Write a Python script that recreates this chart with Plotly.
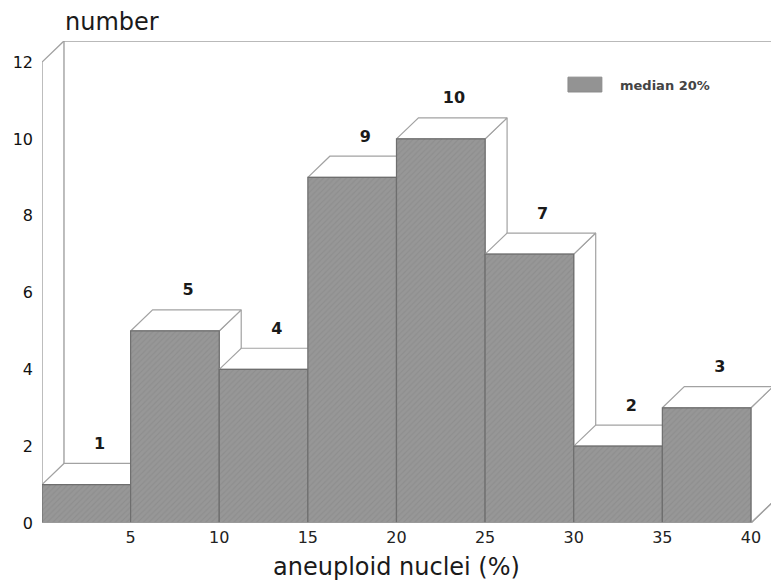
import plotly.graph_objects as go

# ---- data ----
bin_left = [0, 5, 10, 15, 20, 25, 30, 35]
bin_width = 5
counts = [1, 5, 4, 9, 10, 7, 2, 3]
count_labels = ["1", "5", "4", "9", "10", "7", "2", "3"]
x_ticks = [5, 10, 15, 20, 25, 30, 35, 40]
y_ticks = [0, 2, 4, 6, 8, 10, 12]
legend_name = "median 20%"

# ---- geometry (depth of the pseudo-3D effect, in data units) ----
DX = 1.24
DY = 0.55
X_MAX = 41.13
Y_MAX = 12.55
Y_TOP = 12

FRONT = "#979797"
EDGE = "#6e6e6e"
LIGHT = "#a2a2a2"
FONT = "DejaVu Sans"

fig = go.Figure()

def poly(xs, ys, fill, line, width=1.2, pattern=None):
    kw = {}
    if pattern:
        kw["fillpattern"] = pattern
    fig.add_trace(go.Scatter(
        x=xs + [xs[0]], y=ys + [ys[0]], mode="lines", fill="toself",
        fillcolor=fill, line=dict(color=line, width=width),
        hoverinfo="skip", showlegend=False, cliponaxis=False, **kw))

def line(xs, ys, color=LIGHT, width=1.4):
    fig.add_trace(go.Scatter(x=xs, y=ys, mode="lines", line=dict(color=color, width=width),
                             hoverinfo="skip", showlegend=False, cliponaxis=False))

# back wall / frame
line([DX, DX, X_MAX + 0.5], [DY, Y_TOP + DY, Y_TOP + DY])
line([0, 0, DX], [0, Y_TOP, Y_TOP + DY])
line([DX, 40 + DX], [DY, DY])

pattern = dict(shape="/", fgcolor="#858585", bgcolor=FRONT, size=4, solidity=0.3)

for i, (x0, h) in enumerate(zip(bin_left, counts)):
    x1 = x0 + bin_width
    # right side face
    poly([x1, x1 + DX, x1 + DX, x1], [0, DY, h + DY, h], "white", LIGHT)
    # top face
    poly([x0, x1, x1 + DX, x0 + DX], [h, h, h + DY, h + DY], "white", LIGHT)
    # front face
    poly([x0, x1, x1, x0], [0, 0, h, h], FRONT, EDGE, pattern=pattern)

# bottom axis line and right floor diagonal
line([0, 40, 40 + DX], [0, 0, DY])

# value labels above bars
fig.add_trace(go.Scatter(
    x=[x0 + bin_width / 2 + DX * 0.6 for x0 in bin_left],
    y=[h + DY + 0.48 for h in counts],
    text=count_labels, mode="text", textposition="middle center",
    textfont=dict(family=FONT, size=16, color="#1a1a1a", weight="bold"),
    hoverinfo="skip", showlegend=False, cliponaxis=False))

fig.update_layout(
    width=771, height=583,
    margin=dict(l=42, r=0, t=41, b=60),
    paper_bgcolor="white", plot_bgcolor="white",
    font=dict(family=FONT, color="#1a1a1a"),
    showlegend=False,
    xaxis=dict(range=[0, X_MAX], tickvals=x_ticks, ticktext=[str(v) for v in x_ticks],
               showgrid=False, zeroline=False, showline=False, ticks="",
               tickfont=dict(size=16, color="#222"), ticklabelstandoff=3),
    yaxis=dict(range=[0, Y_MAX], tickvals=y_ticks, ticktext=[str(v) for v in y_ticks],
               showgrid=False, zeroline=False, showline=False, ticks="",
               tickfont=dict(size=16, color="#111"), ticklabelstandoff=8),
    shapes=[
        dict(type="rect", xref="paper", yref="paper",
             x0=0.7215, x1=0.768, y0=0.8942, y1=0.925,
             fillcolor="#939393", line=dict(color="#8a8a8a", width=1)),
    ],
    annotations=[
        dict(text=legend_name, xref="paper", yref="paper", x=0.790, y=0.9087,
             xanchor="left", yanchor="middle", showarrow=False,
             font=dict(family=FONT, size=13, color="#444", weight="bold")),
        dict(text="number", xref="paper", yref="paper", x=0.029, y=1.0,
             xanchor="left", yanchor="middle", yshift=19, showarrow=False,
             font=dict(family=FONT, size=24, color="#1a1a1a")),
        dict(text="aneuploid nuclei (%)", xref="paper", yref="paper", x=0.486, y=0,
             xanchor="center", yanchor="middle", yshift=-44, showarrow=False,
             font=dict(family=FONT, size=24, color="#1a1a1a")),
    ],
)

fig.write_html("out.html")
